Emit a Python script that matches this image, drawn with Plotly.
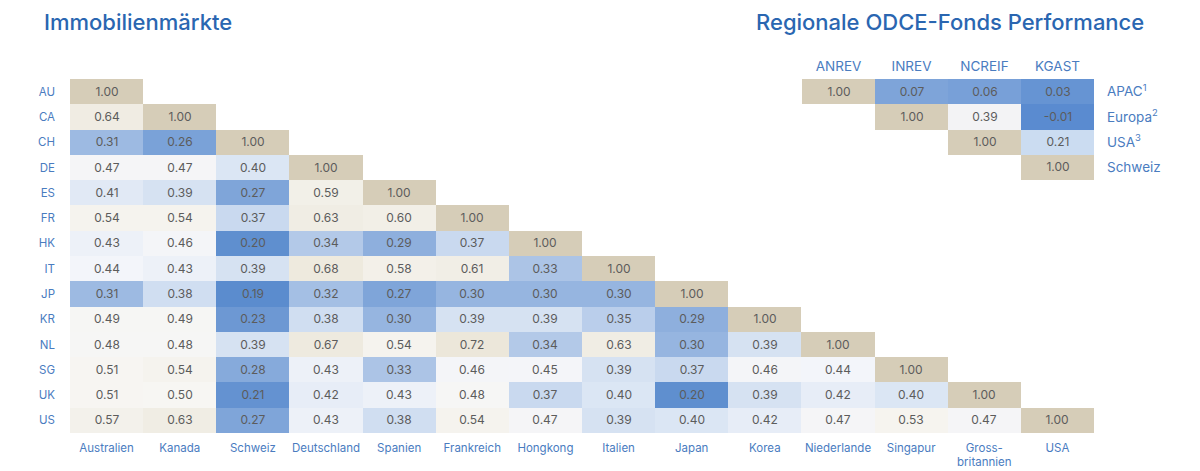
import plotly.graph_objects as go

# left matrix: market codes (rows) and country names (columns)
MARKETS = ["AU", "CA", "CH", "DE", "ES", "FR", "HK", "IT", "JP", "KR", "NL", "SG", "UK", "US"]
COUNTRIES = ["Australien", "Kanada", "Schweiz", "Deutschland", "Spanien", "Frankreich", "Hongkong",
             "Italien", "Japan", "Korea", "Niederlande", "Singapur", "Gross-<br>britannien", "USA"]

# lower triangle, one list per row
MARKET_CORR = [
    [1.00],
    [0.64, 1.00],
    [0.31, 0.26, 1.00],
    [0.47, 0.47, 0.40, 1.00],
    [0.41, 0.39, 0.27, 0.59, 1.00],
    [0.54, 0.54, 0.37, 0.63, 0.60, 1.00],
    [0.43, 0.46, 0.20, 0.34, 0.29, 0.37, 1.00],
    [0.44, 0.43, 0.39, 0.68, 0.58, 0.61, 0.33, 1.00],
    [0.31, 0.38, 0.19, 0.32, 0.27, 0.30, 0.30, 0.30, 1.00],
    [0.49, 0.49, 0.23, 0.38, 0.30, 0.39, 0.39, 0.35, 0.29, 1.00],
    [0.48, 0.48, 0.39, 0.67, 0.54, 0.72, 0.34, 0.63, 0.30, 0.39, 1.00],
    [0.51, 0.54, 0.28, 0.43, 0.33, 0.46, 0.45, 0.39, 0.37, 0.46, 0.44, 1.00],
    [0.51, 0.50, 0.21, 0.42, 0.43, 0.48, 0.37, 0.40, 0.20, 0.39, 0.42, 0.40, 1.00],
    [0.57, 0.63, 0.27, 0.43, 0.38, 0.54, 0.47, 0.39, 0.40, 0.42, 0.47, 0.53, 0.47, 1.00],
]

# right matrix: ODCE fund indices, upper triangle
INDICES = ["ANREV", "INREV", "NCREIF", "KGAST"]
REGIONS = ["APAC<sup>1</sup>", "Europa<sup>2</sup>", "USA<sup>3</sup>", "Schweiz"]
APAC = [1.00, 0.07, 0.06, 0.03]
EUROPA = [None, 1.00, 0.39, -0.01]
USA = [None, None, 1.00, 0.21]
SCHWEIZ = [None, None, None, 1.00]

W, H = 1200, 471
BLUE = "#2a66b1"
LABEL_BLUE = "#4a7cbf"
CELL_FONT = dict(family="Inter, Roboto, sans-serif", size=12, color="#5c5c5c")

def px_x(p):
    return p / W

def px_y(p):
    return 1 - p / H

def pad(row, n):
    return row + [None] * (n - len(row))

n = len(MARKETS)
z_left = [pad(r, n) for r in MARKET_CORR]
t_left = [["" if v is None else f"{v:.2f}" for v in r] for r in z_left]

z_right = [APAC, EUROPA, USA, SCHWEIZ]
t_right = [["" if v is None else f"{v:.2f}" for v in r] for r in z_right]

LEFT_SCALE = [
    [0.0, "#5b8cce"],
    [0.099, "#7fa5d9"],
    [0.148, "#9dbae2"],
    [0.235, "#d0def1"],
    [0.309, "#f3f5fa"],
    [0.383, "#f7f6f3"],
    [0.506, "#f2efe7"],
    [0.654, "#ece7da"],
    [0.99, "#ddd5c3"],
    [1.0, "#d6cdb8"],
]
RIGHT_SCALE = [
    [0.0, "#5a8bd0"],
    [0.04, "#6694d3"],
    [0.079, "#7ea4d9"],
    [0.218, "#cbdcf1"],
    [0.396, "#f3f3f5"],
    [0.7, "#ece7da"],
    [1.0, "#d6cdb8"],
]

fig = go.Figure()

fig.add_trace(go.Heatmap(
    z=z_left, x=COUNTRIES, y=MARKETS, text=t_left, texttemplate="%{text}", textfont=CELL_FONT,
    colorscale=LEFT_SCALE, zmin=0.19, zmax=1.0, showscale=False, hoverongaps=False,
    xaxis="x", yaxis="y",
))
fig.add_trace(go.Heatmap(
    z=z_right, x=INDICES, y=REGIONS, text=t_right, texttemplate="%{text}", textfont=CELL_FONT,
    colorscale=RIGHT_SCALE, zmin=-0.01, zmax=1.0, showscale=False, hoverongaps=False,
    xaxis="x2", yaxis="y2",
))

fig.update_layout(
    width=W, height=H,
    margin=dict(l=0, r=0, t=0, b=0),
    paper_bgcolor="white", plot_bgcolor="rgba(0,0,0,0)",
    font=dict(family="Inter, Roboto, sans-serif"),
    xaxis=dict(domain=[px_x(70), px_x(1094)], anchor="y", showgrid=False, zeroline=False,
               tickfont=dict(size=11.5, color=LABEL_BLUE), ticklabelstandoff=6, fixedrange=True),
    yaxis=dict(domain=[px_y(433), px_y(79)], anchor="x", autorange="reversed", showgrid=False,
               zeroline=False, tickfont=dict(size=11.5, color=LABEL_BLUE), ticklabelstandoff=14),
    xaxis2=dict(domain=[px_x(802), px_x(1094)], anchor="y2", side="top", showgrid=False, zeroline=False,
                tickfont=dict(size=13.5, color=LABEL_BLUE), ticklabelstandoff=4),
    yaxis2=dict(domain=[px_y(180), px_y(79)], anchor="x2", side="right", autorange="reversed",
                showgrid=False, zeroline=False, tickfont=dict(size=13.5, color=LABEL_BLUE),
                ticklabelstandoff=12),
    annotations=[
        dict(x=px_x(42), y=px_y(22), xref="paper", yref="paper", xanchor="left", yanchor="middle",
             showarrow=False, text="Immobilienmärkte", font=dict(size=22, color=BLUE, weight=500)),
        dict(x=px_x(1146), y=px_y(22), xref="paper", yref="paper", xanchor="right", yanchor="middle",
             showarrow=False, text="Regionale ODCE-Fonds Performance",
             font=dict(size=22, color=BLUE, weight=500)),
    ],
)

# drop the default body margin so the figure sits at the window's top-left corner
fig.write_html("out.html", config={"displayModeBar": False},
               post_script="document.body.style.margin='0';")
